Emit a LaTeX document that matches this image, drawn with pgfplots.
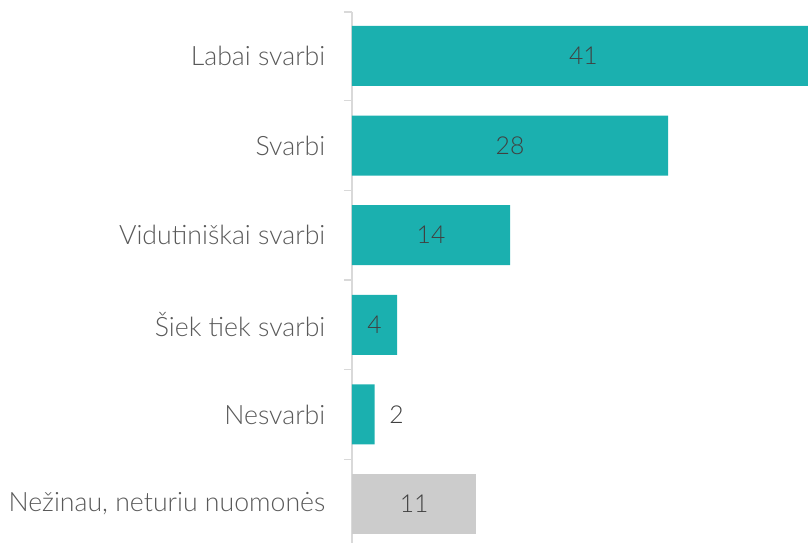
\documentclass[border=0pt]{standalone}
\usepackage{pgfplots}
\pgfplotsset{compat=1.18}
\usepackage{fontspec}
\setmainfont{Lato Light}
\definecolor{teal1}{HTML}{1BB0AF}
\definecolor{grey1}{HTML}{CCCCCC}
\definecolor{txt}{HTML}{595959}
\definecolor{vtxt}{HTML}{404040}
\definecolor{axl}{HTML}{D9D9D9}
\begin{document}
\begin{tikzpicture}
\begin{axis}[
  scale only axis, width=342pt, height=398.25pt,
  xmin=0, xmax=40.4, ymin=-0.49, ymax=5.435, y dir=reverse,
  axis x line=none, axis y line=left,
  axis line style={-, draw=axl, line width=1pt},
  ytick={0,1,2,3,4,5},
  yticklabels={Labai svarbi, Svarbi, Vidutiniškai svarbi, Šiek tiek svarbi, Nesvarbi, {Nežinau, neturiu nuomonės}},
  major tick length=0pt,
  minor ytick={-0.49,0.5,1.5,2.5,3.5,4.5},
  minor tick length=6pt, tick align=outside,
  minor tick style={draw=axl, line width=1pt},
  yticklabel style={font=\fontsize{20}{23}\selectfont, text=txt, xshift=-16.5pt},
  bar width=0.67, bar shift=0pt,
]
\addplot[xbar, fill=teal1, draw=none] coordinates {(41,0) (28,1) (14,2) (4,3) (2,4)};
\addplot[xbar, fill=grey1, draw=none] coordinates {(11,5)};
\addplot[draw=none, mark=none, nodes near coords, point meta=explicit symbolic,
  nodes near coords align={center},
  every node near coord/.style={font=\fontsize{18.5}{21}\selectfont, text=vtxt, anchor=center}]
  coordinates {(20.5,0) [41] (14,1) [28] (7,2) [14] (2,3) [4] (3.95,4) [2] (5.5,5) [11]};
\end{axis}
\pgfresetboundingbox
\path ([xshift=-264pt]current axis.south west) rectangle ([yshift=9pt]current axis.north east);
\end{tikzpicture}
\end{document}
